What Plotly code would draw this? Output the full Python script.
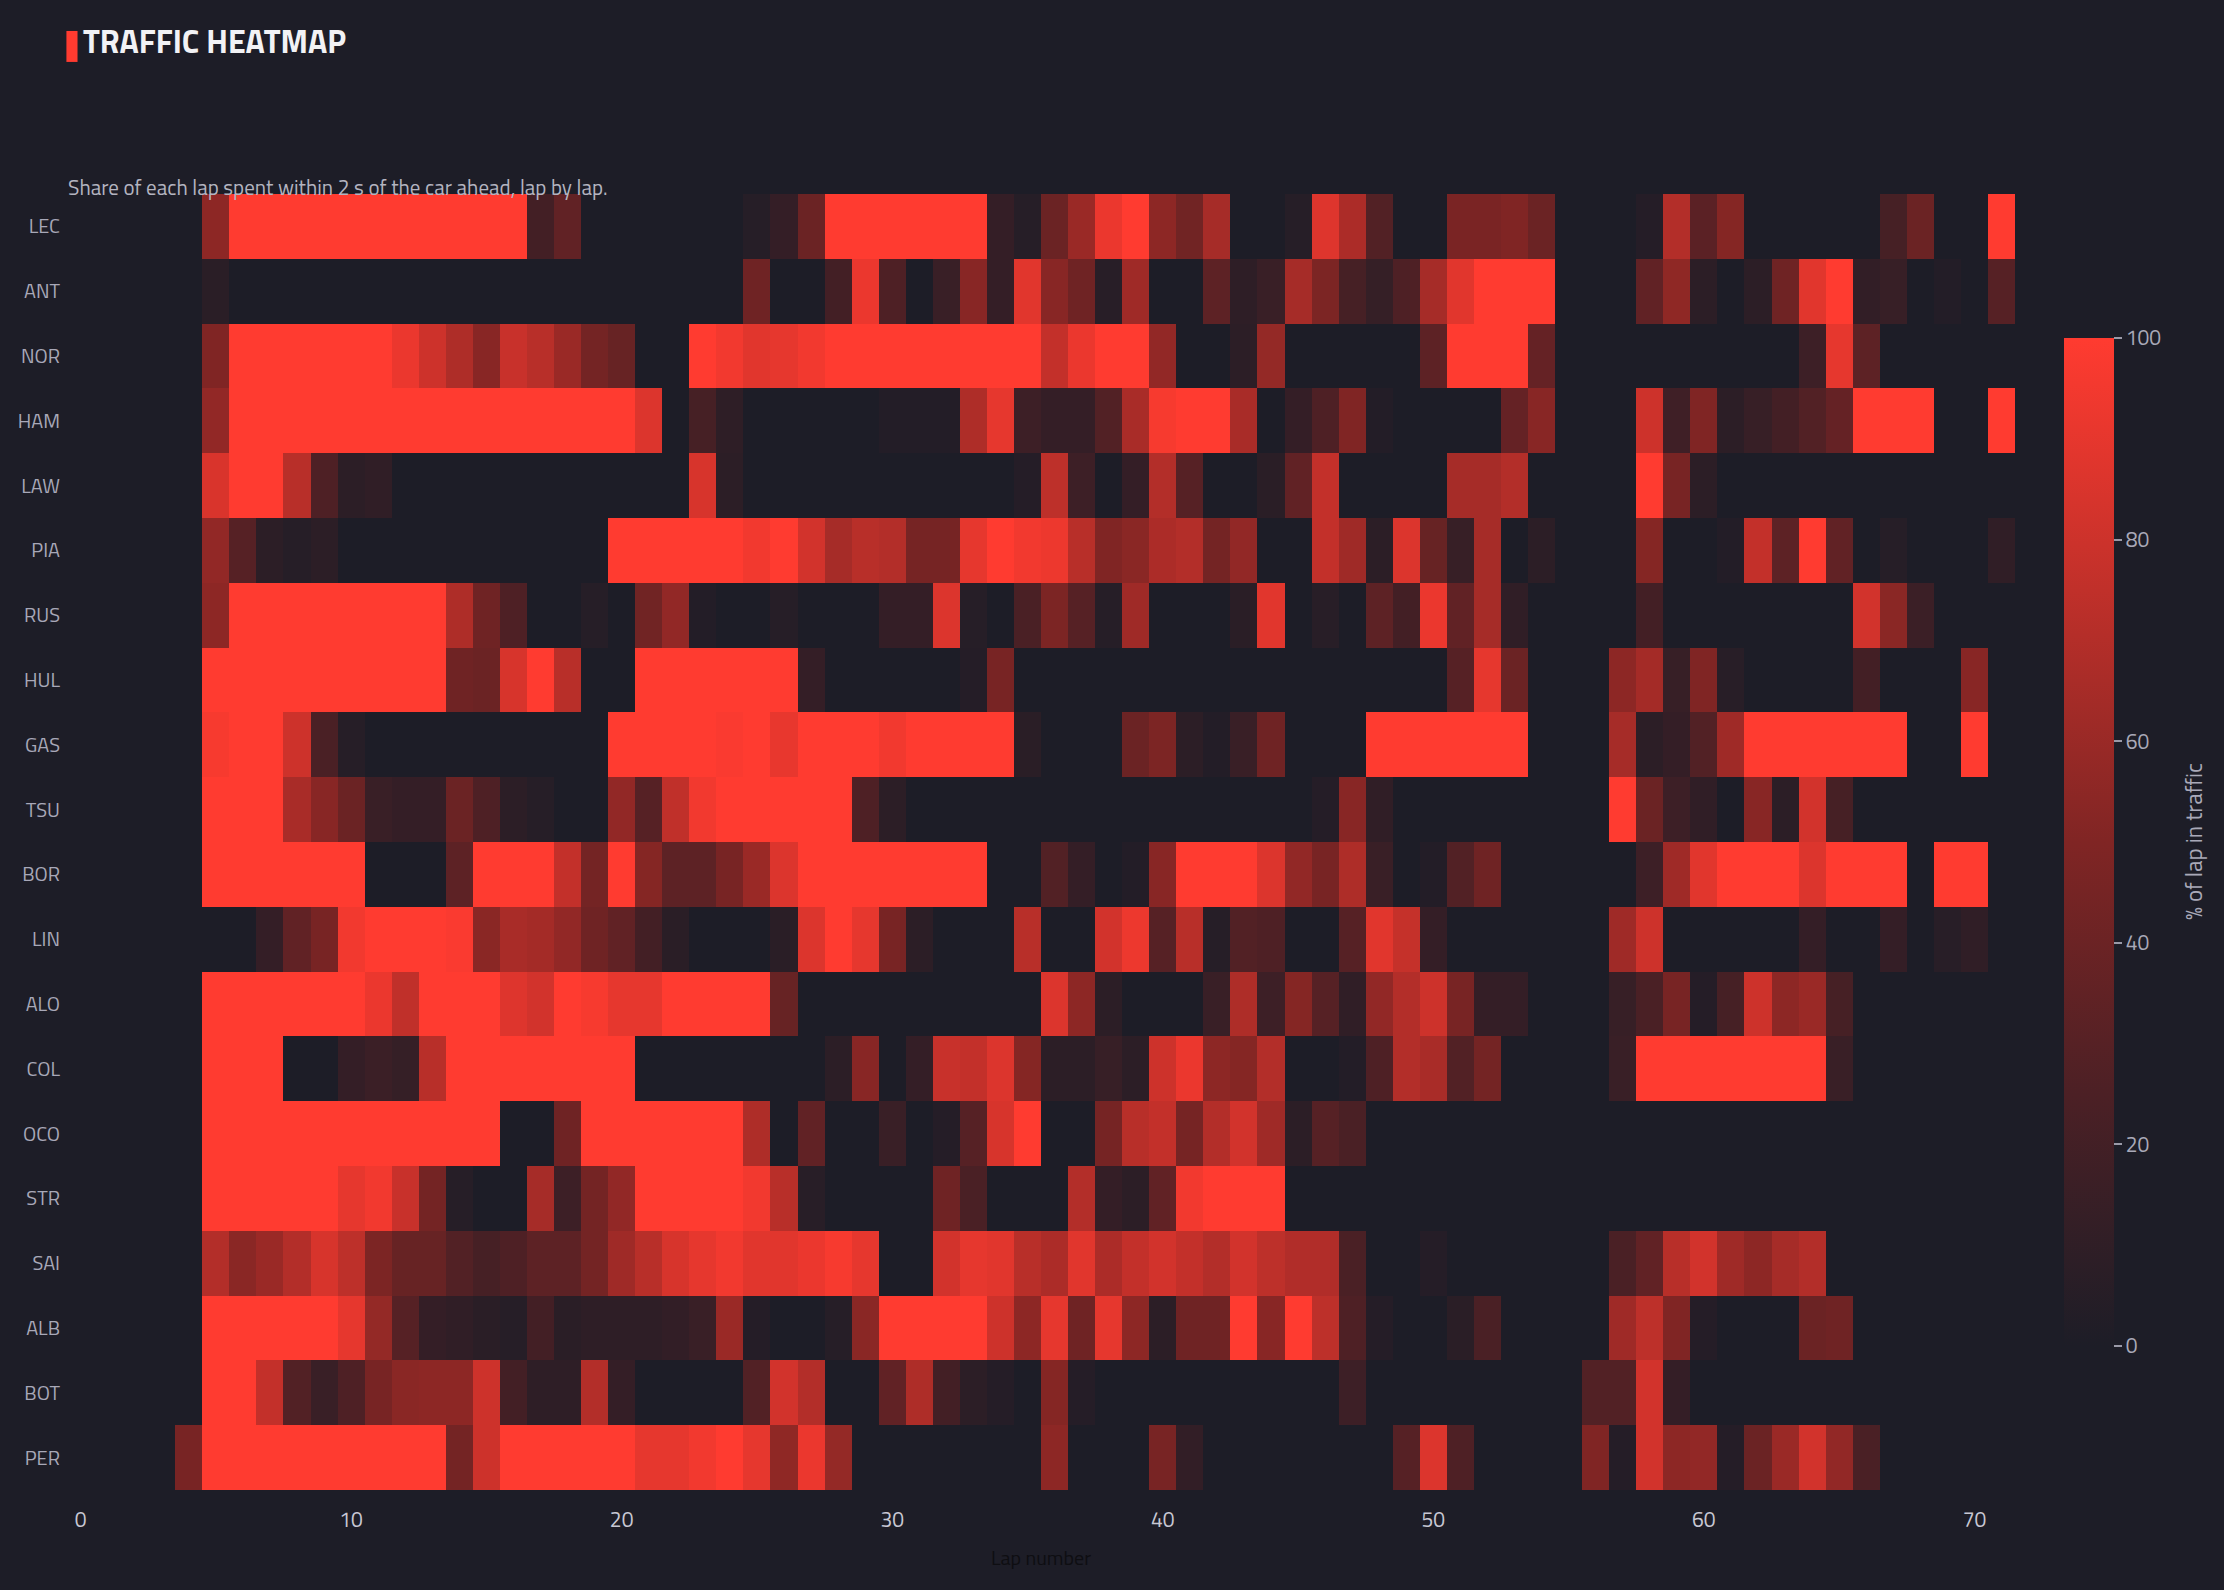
import plotly.graph_objects as go

drivers = ["LEC", "ANT", "NOR", "HAM", "LAW", "PIA", "RUS", "HUL", "GAS", "TSU",
           "BOR", "LIN", "ALO", "COL", "OCO", "STR", "SAI", "ALB", "BOT", "PER"]
laps = list(range(1, 72))

lec = [0,0,0,0,55, 100,100,100,100,100, 100,100,100,100,100, 100,20,35,0,0,
       0,0,0,0,5, 12,40,100,100,100, 100,100,100,12,5, 40,60,92,100,55,
       43,65,0,0,5, 87,67,28,0,0, 47,47,50,40,0, 0,0,4,70,32,
       52,0,0,0,0, 0,22,40,0,0, 100]
ant = [0,0,0,0,7, 0,0,0,0,0, 0,0,0,0,0, 0,0,0,0,0,
       0,0,0,0,42, 0,0,20,92,26, 0,15,53,12,88, 53,42,6,62,0,
       0,33,9,15,65, 48,22,13,26,65, 88,100,100,100,0, 0,0,35,56,8,
       0,8,42,88,100, 11,14,0,3,0, 30]
nor = [0,0,0,0,50, 100,100,100,100,100, 100,92,80,68,53, 78,72,60,44,38,
       0,0,100,95,88, 90,95,100,100,100, 100,100,100,100,100, 76,92,100,100,57,
       0,0,8,58,0, 0,0,0,0,33, 100,100,100,37,0, 0,0,0,0,0,
       0,0,0,17,90, 33,0,0,0,0, 0]
ham = [0,0,0,0,57, 100,100,100,100,100, 100,100,100,100,100, 100,100,100,100,100,
       86,0,22,9,0, 0,0,0,0,3, 3,3,68,90,17, 12,12,28,66,97,
       100,100,66,0,12, 26,50,3,0,0, 0,0,37,53,0, 0,0,80,18,50,
       8,14,20,28,37, 100,100,100,0,0, 100]
law = [0,0,0,0,85, 100,100,72,26,8, 10,0,0,0,0, 0,0,0,0,0,
       0,0,84,8,0, 0,0,0,0,0, 0,0,0,0,4, 74,17,0,12,70,
       30,0,0,7,35, 76,0,0,0,0, 65,65,70,0,0, 0,0,100,46,8,
       0,0,0,0,0, 0,0,0,0,0, 0]
pia = [0,0,0,0,57, 30,8,5,8,0, 0,0,0,0,0, 0,0,0,0,100,
       100,100,100,100,95, 100,82,65,72,70, 45,45,90,100,95, 93,72,50,54,67,
       70,44,57,0,0, 76,62,8,86,38, 14,65,0,8,0, 0,0,52,0,0,
       3,76,33,100,35, 0,5,0,0,0, 10]
rus = [0,0,0,0,55, 100,100,100,100,100, 100,100,100,68,42, 26,0,0,5,0,
       43,57,3,0,0, 5,0,0,0,12, 12,86,5,0,24, 48,30,5,62,0,
       0,0,7,88,0, 6,0,33,20,92, 35,65,10,0,0, 0,0,20,0,0,
       0,0,0,0,0, 82,54,16,0,0, 0]
hul = [0,0,0,0,100, 100,100,100,100,100, 100,100,100,42,40, 84,100,72,0,0,
       100,100,100,100,100, 100,12,0,0,0, 0,0,4,46,0, 0,0,0,0,0,
       0,0,0,0,0, 0,0,0,0,0, 30,90,40,0,0, 0,55,64,14,50,
       6,0,0,0,0, 20,0,0,0,53, 0]
gas = [0,0,0,0,97, 100,100,80,24,5, 0,0,0,0,0, 0,0,0,0,100,
       100,100,100,98,100, 91,100,100,100,95, 100,100,100,100,7, 0,0,0,40,48,
       8,3,15,42,0, 0,0,100,100,100, 100,100,100,0,0, 0,65,8,12,28,
       62,100,100,100,100, 100,100,0,0,100, 0]
tsu = [0,0,0,0,100, 100,100,66,53,40, 15,12,12,40,26, 8,5,0,0,57,
       30,75,95,100,100, 100,100,100,26,8, 0,0,0,0,0, 0,0,0,0,0,
       0,0,0,0,0, 4,53,10,0,0, 0,0,0,0,0, 0,100,40,17,10,
       0,53,8,82,22, 0,0,0,0,0, 0]
bor = [0,0,0,0,100, 100,100,100,100,100, 0,0,0,33,100, 100,100,76,44,100,
       52,33,33,46,60, 86,100,100,100,100, 100,100,100,0,0, 28,12,0,3,53,
       100,100,100,86,57, 46,68,15,0,3, 28,42,0,0,0, 0,0,17,62,88,
       100,100,100,86,100, 100,100,0,100,100, 0]
lin = [0,0,0,0,0, 0,12,35,46,95, 100,100,100,98,54, 66,64,57,42,35,
       20,7,0,0,0, 7,86,100,90,46, 8,0,0,0,72, 0,0,82,93,30,
       72,5,28,26,0, 0,30,88,77,12, 0,0,0,0,0, 0,62,80,0,0,
       0,0,0,12,0, 0,12,0,6,10, 0]
alo = [0,0,0,0,100, 100,100,100,100,100, 92,75,100,100,100, 87,82,100,97,90,
       90,100,100,100,100, 38,0,0,0,0, 0,0,0,0,0, 86,55,8,0,0,
       0,15,68,17,52, 30,10,57,70,80, 46,12,12,0,0, 0,14,24,46,4,
       22,80,55,60,22, 0,0,0,0,0, 0]
col = [0,0,0,0,100, 100,100,0,0,12, 16,13,72,100,100, 100,100,100,100,100,
       0,0,0,0,0, 0,0,8,53,0, 12,78,76,86,52, 8,8,14,8,80,
       92,55,52,70,0, 0,3,26,70,66, 28,44,0,0,0, 0,15,100,100,100,
       100,100,100,100,15, 0,0,0,0,0, 0]
oco = [0,0,0,0,100, 100,100,100,100,100, 100,100,100,100,100, 0,0,42,100,100,
       100,100,100,100,68, 0,35,0,0,15, 0,4,30,84,100, 0,0,45,72,76,
       45,70,82,62,8, 30,24,0,0,0, 0,0,0,0,0, 0,0,0,0,0,
       0,0,0,0,0, 0,0,0,0,0, 0]
stro = [0,0,0,0,100, 100,100,100,100,90, 95,78,44,5,0, 0,65,17,44,57,
        100,100,100,100,95, 72,6,0,0,0, 0,42,24,0,0, 0,70,12,8,35,
        95,100,100,100,0, 0,0,0,0,0, 0,0,0,0,0, 0,0,0,0,0,
        0,0,0,0,0, 0,0,0,0,0, 0]
sai = [0,0,0,0,70, 54,60,70,84,74, 48,38,38,28,22, 26,33,33,44,62,
       72,84,90,95,88, 88,92,97,90,0, 0,82,90,88,72, 67,88,67,76,82,
       76,70,82,74,69, 69,24,0,0,4, 0,0,0,0,0, 0,24,35,72,82,
       62,55,65,70,0, 0,0,0,0,0, 0]
alb = [0,0,0,0,100, 100,100,100,100,90, 58,30,12,10,7, 5,20,7,9,9,
       9,11,15,60,4, 0,0,5,54,100, 100,100,100,80,55, 90,42,90,55,8,
       42,42,100,53,100, 74,26,4,0,0, 7,24,0,0,0, 0,62,74,50,4,
       0,0,0,40,42, 0,0,0,0,0, 0]
bot = [0,0,0,0,100, 100,76,28,15,26, 46,54,55,55,80, 20,9,9,70,12,
       0,0,0,0,28, 82,70,0,0,35, 68,20,8,4,0, 52,4,0,0,0,
       0,0,0,0,0, 0,17,0,0,0, 0,0,0,0,0, 28,28,82,12,0,
       0,0,0,0,0, 0,0,0,0,0, 0]
per = [0,0,0,46,100, 100,100,100,100,100, 100,100,100,44,80, 100,100,100,100,100,
       90,90,95,100,90, 56,92,58,0,0, 0,0,0,0,0, 55,0,0,0,46,
       11,0,0,0,0, 0,0,0,30,86, 26,0,0,0,0, 50,4,82,55,57,
       4,40,60,82,57, 24,0,0,0,0, 0]

rows = [lec, ant, nor, ham, law, pia, rus, hul, gas, tsu,
        bor, lin, alo, col, oco, stro, sai, alb, bot, per]

BG = "#1d1d27"
RED = "#ff3b30"
FONT = "Titillium Web, Liberation Sans Narrow, Arial Narrow, Roboto, sans-serif"

colorscale = [
    [0.0, BG],
    [0.25, "rgb(76,32,37)"],
    [0.5, "rgb(128,37,36)"],
    [0.75, "rgb(192,48,42)"],
    [1.0, RED],
]

fig = go.Figure(
    go.Heatmap(
        z=rows, x=laps, y=drivers,
        colorscale=colorscale, zmin=0, zmax=100,
        xgap=0, ygap=0,
        colorbar=dict(
            thickness=50, thicknessmode="pixels",
            len=0.793, lenmode="fraction",
            x=1.0249, xanchor="left", xpad=0,
            y=0.5, yanchor="middle",
            outlinewidth=0,
            tickvals=[0, 20, 40, 60, 80, 100],
            ticks="outside", ticklen=8, tickwidth=1.5, tickcolor="#9a9aa8",
            tickfont=dict(family=FONT, size=21, color="#a9a9b8"),
        ),
    )
)

fig.update_layout(
    width=2224, height=1590,
    paper_bgcolor=BG, plot_bgcolor=BG,
    margin=dict(l=67, r=209, t=194, b=100),
    font=dict(family=FONT, color="#b4b4c0"),
    showlegend=False,
    xaxis=dict(
        range=[-0.5, 71.5], tickvals=[0, 10, 20, 30, 40, 50, 60, 70],
        showgrid=False, zeroline=False, showline=False,
        ticks="outside", ticklen=11, tickcolor=BG,
        tickfont=dict(family=FONT, size=21, color="#c8c8d4"),
        title=dict(text="Lap number", standoff=16,
                   font=dict(family=FONT, size=20, color="#0e0e12")),
    ),
    yaxis=dict(
        autorange="reversed", showgrid=False, zeroline=False, showline=False,
        ticks="", ticklabelstandoff=6,
        tickfont=dict(family=FONT, size=20, color="#a8a8b8"),
    ),
    shapes=[dict(type="rect", xref="paper", yref="paper",
                 x0=-0.0003, x1=0.0054, y0=1.1019, y1=1.1258,
                 fillcolor=RED, line=dict(width=0))],
    annotations=[
        dict(text="<b>TRAFFIC HEATMAP</b>", xref="paper", yref="paper",
             x=0.0074, y=1.118, xanchor="left", yanchor="middle", showarrow=False,
             font=dict(family=FONT, size=32, color="#f2f2f5")),
        dict(text="Share of each lap spent within 2 s of the car ahead, lap by lap.",
             xref="paper", yref="paper", x=-0.0003, y=1.0054,
             xanchor="left", yanchor="middle", showarrow=False,
             font=dict(family=FONT, size=21, color="#b4b4c0")),
        dict(text="% of lap in traffic", xref="paper", yref="paper",
             x=1.0914, y=0.5, xanchor="center", yanchor="middle",
             textangle=-90, showarrow=False,
             font=dict(family=FONT, size=23, color="#a9a9b8")),
    ],
)

fig.write_html(
    "out.html",
    config={"displayModeBar": False},
    post_script="document.body.style.margin='0';document.body.style.background='#1d1d27';",
)
